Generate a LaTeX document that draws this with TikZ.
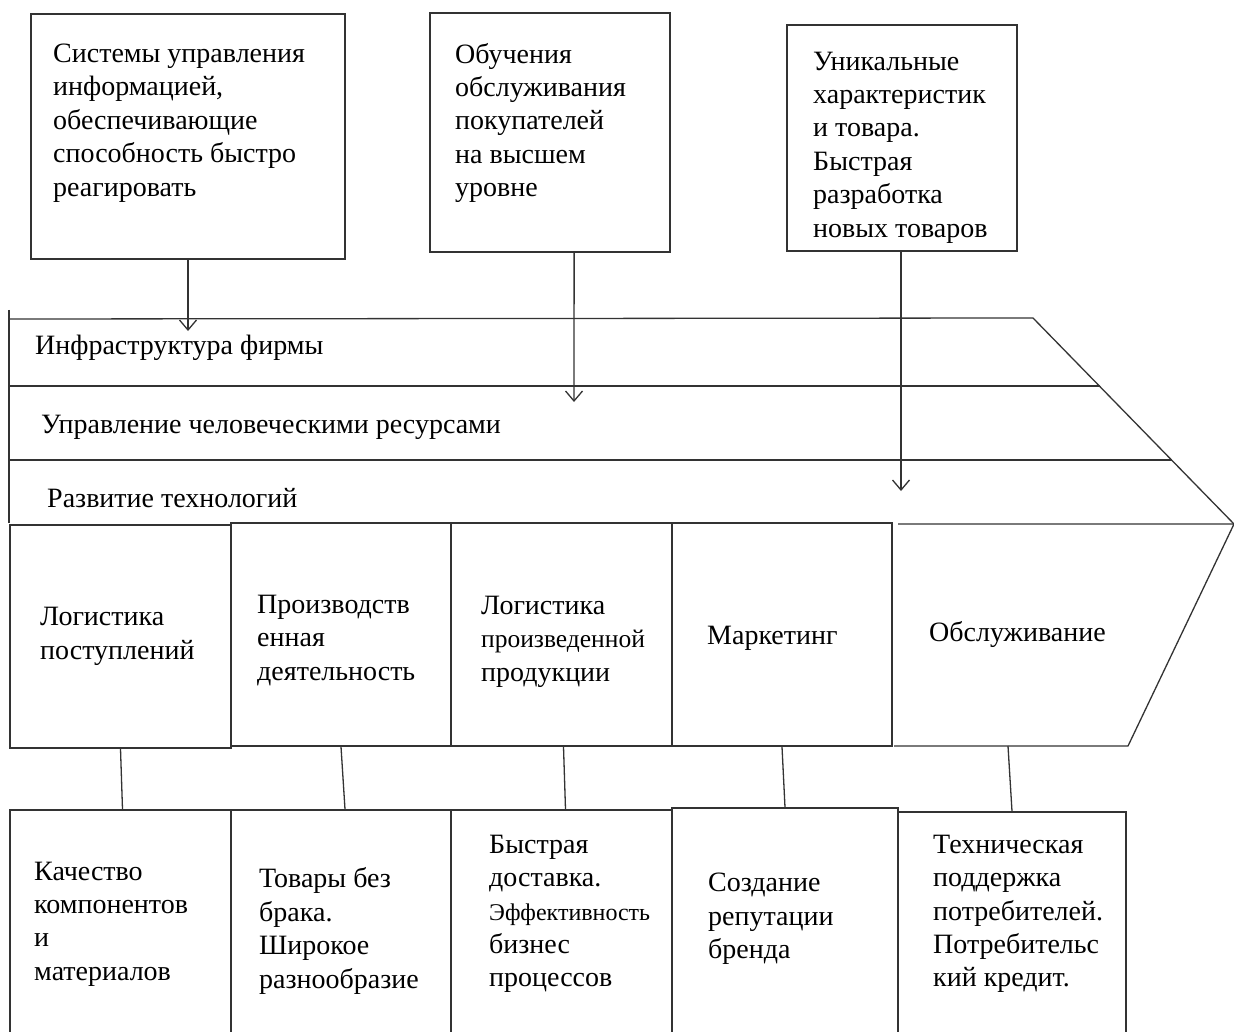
\documentclass[tikz,border=0pt]{standalone}
\usepackage{fontspec}
\setmainfont{Liberation Serif}
\usetikzlibrary{arrows.meta,calc}
\definecolor{ln}{HTML}{333333}
\begin{document}
\begin{tikzpicture}[x=1pt,y=-1pt,
  box/.style={draw=ln,line width=1.4pt,inner sep=0pt,minimum width=#1},
  txt/.style={anchor=west,inner sep=0pt,align=left,text=black,font=\fontsize{28}{33.4}\selectfont,yshift=-3pt},
  lnk/.style={draw=ln,line width=1.3pt},
  arr/.style={draw=ln,line width=1.3pt,-{Straight Barb[length=10pt,width=17pt,line width=1.3pt]}}]
\useasboundingbox[fill=white] (0,0) rectangle (1234,1032);
% top boxes
\node[box=314pt,minimum height=245pt] (s1) at (188,136.5) {};
\node[box=240pt,minimum height=239pt] (s2) at (550,132.5) {};
\node[box=230pt,minimum height=226pt] (s3) at (902,138) {};
\node[txt] (t1) at (53,120) {Системы управления\\информацией,\\обеспечивающие\\способность быстро\\реагировать};
\node[txt] (t2) at (455,120) {Обучения\\обслуживания\\покупателей\\на высшем\\уровне};
\node[txt] (t3) at (813,144.5) {Уникальные\\характеристик\\и товара.\\Быстрая\\разработка\\новых товаров};
% bands
\coordinate (L0) at (9,310);
\coordinate (L1) at (9,523);
\coordinate (A) at (9,319);
\coordinate (B) at (1033,318);
\coordinate (T) at (1234,524);
\coordinate (C) at (9,386);
\coordinate (D) at (1100,386);
\coordinate (E) at (9,460);
\coordinate (F) at (1172,460);
\draw[lnk] (L0) -- (L1);
\draw[lnk] (A) -- (B) -- (T);
\draw[lnk] (C) -- (D);
\draw[lnk] (E) -- (F);
\node[txt] (i1) at (35,345) {Инфраструктура фирмы};
\node[txt] (i2) at (41,424) {Управление человеческими ресурсами};
\node[txt] (i3) at (47,495) {Развитие технологий};
% primary activities
\node[box=221pt,minimum height=223pt] (p1) at (120.5,636.5) {};
\node[box=220pt,minimum height=223pt] (p2) at (341,634.5) {};
\node[box=221pt,minimum height=223pt] (p3) at (561.5,634.5) {};
\node[box=220pt,minimum height=223pt] (p4) at (782,634.5) {};
\coordinate (G) at (898,524);
\coordinate (H) at (1128,746);
\coordinate (K) at (894,746);
\coordinate (p5) at (1008,746);
\draw[lnk] (G) -- (T) -- (H) -- (K);
\node[txt] (a1) at (40,633.5) {Логистика\\поступлений};
\node[txt] (a2) at (257,637.5) {Производств\\енная\\деятельность};
\node[txt] (a3) at (481,638.5) {Логистика\\{\fontsize{25.5}{33.4}\selectfont произведенной}\\продукции};
\node[txt] (a4) at (707,635) {Маркетинг};
\node[txt] (a5) at (929,631) {Обслуживание};
% bottom boxes
\node[box=221pt,minimum height=240pt] (b1) at (120.5,930) {};
\node[box=220pt,minimum height=240pt] (b2) at (341,930) {};
\node[box=221pt,minimum height=240pt] (b3) at (561.5,930) {};
\node[box=226pt,minimum height=244pt] (b4) at (785,930) {};
\node[box=228pt,minimum height=236pt] (b5) at (1012,930) {};
\node[txt] (c1) at (34,921) {Качество\\компонентов\\и\\материалов};
\node[txt] (c2) at (259,928) {Товары без\\брака.\\Широкое\\разнообразие};
\node[txt] (c3) at (489,911) {Быстрая\\доставка.\\{\fontsize{24}{33.4}\selectfont Эффективность}\\бизнес\\процессов};
\node[txt] (c4) at (708,916) {Создание\\репутации\\бренда};
\node[txt] (c5) at (933,911) {Техническая\\поддержка\\потребителей.\\Потребительс\\кий кредит.};
% connectors
\draw[lnk] (p1.south) -- ($(b1.north)+(2,0)$);
\draw[lnk] (p2.south) -- ($(b2.north)+(4,0)$);
\draw[lnk] ($(p3.south)+(2,0)$) -- ($(b3.north)+(4,0)$);
\draw[lnk] (p4.south) -- (b4.north);
\draw[lnk] (p5) -- (b5.north);
% arrows
\coordinate (e1) at (188,331);
\coordinate (e2) at (574,402);
\coordinate (e3) at (901,491);
\draw[arr] (s1.south) -- (e1);
\draw[arr] ($(s2.south west)!0.6!(s2.south east)$) -- (e2);
\draw[arr] ($(s3.south)+(-1,0)$) -- (e3);
\end{tikzpicture}
\end{document}
